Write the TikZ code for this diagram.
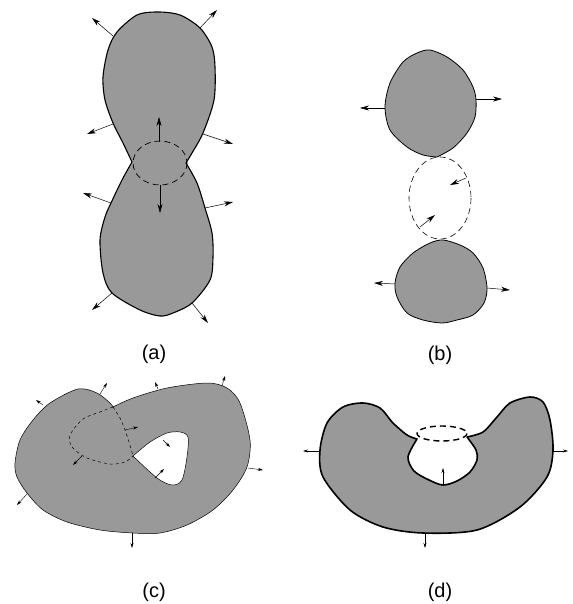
\documentclass[tikz,border=0pt]{standalone}
\usepackage{fontspec}
\setmainfont{Liberation Sans}
\usetikzlibrary{arrows.meta}

\tikzset{
  surface/.style={fill=black!40, draw=black},
  hidden/.style={dash pattern=on 6pt off 4pt},
  normal/.style={-{Stealth[length=9pt,width=5pt]}, line width=0.5pt},
  smallnormal/.style={-{Stealth[length=5pt,width=3pt]}, line width=0.4pt},
  caption/.style={font=\fontsize{20}{22}\selectfont, inner sep=0pt}
}

\begin{document}
\begin{tikzpicture}[x=1pt, y=-1pt]

    \useasboundingbox (0,0) rectangle (572,604);

    % (a) pinching lobes
    \draw[surface, line width=1.1pt]
        plot[smooth] coordinates {(132,162) (123,143) (113,123) (105,100) (103,77) (108,50) (117,32) (137,15) (158,12) (180,15) (200,28) (212,47) (215,67) (214,100) (203,133) (192,153) (186,163)}
        -- plot[smooth] coordinates {(186,163) (197,183) (205,208) (212,233) (213,257) (210,280) (192,303) (173,313) (160,316) (140,310) (112,293) (103,273) (100,240) (105,217) (111,203) (122,180) (132,162)}
        -- cycle;
    \draw[hidden, line width=0.7pt] (160,163) ellipse [x radius=27, y radius=22];
    \foreach \sx/\sy/\ex/\ey in {113/36/92/18, 200/28/217/10, 113/124/87/134, 203/134/233/144,
                                 111/203/83/193, 205/208/233/202, 112/293/92/310, 192/303/208/323,
                                 159/142/159/117, 160/185/160/213}
        \draw[normal] (\sx,\sy) -- (\ex,\ey);
    \node[caption] (capa) at (154,354) {(a)};

    % (b) splitting into two
    \draw[surface, line width=0.8pt] plot[smooth] coordinates {(437,157) (423,155) (407,147) (390,130) (385,107) (390,83) (403,62) (417,53) (430,50) (447,57) (463,70) (473,87) (476,100) (475,117) (467,133) (453,148) (437,157)} -- cycle;
    \draw[surface, line width=0.8pt] plot[smooth cycle] coordinates {(443,240) (460,245) (473,253) (483,268) (487,288) (484,303) (473,315) (457,320) (442,323) (423,320) (407,313) (397,297) (395,283) (400,267) (413,253) (430,243)};
    \draw[hidden, line width=0.6pt] (440,198) ellipse [x radius=31, y radius=41];
    \foreach \sx/\sy/\ex/\ey in {385/108/360/108, 476/99/502/99, 395/284/374/283, 487/288/510/290,
                                 466/178/450/185, 420/227/435/215}
        \draw[normal] (\sx,\sy) -- (\ex,\ey);
    \node[caption] (capb) at (440,355) {(b)};

    % (c) self-overlapping sheet with a hole
    \draw[surface, line width=0.5pt]
        plot[smooth] coordinates {(113,407) (110,403) (97,393) (78,389) (50,403) (33,420) (20,440) (15,463) (17,477) (27,493) (43,510) (67,522) (100,530) (133,533) (160,533) (187,525) (213,510) (233,490) (247,467) (250,440) (240,403) (227,388) (207,383) (167,388) (133,398) (113,407)}
        -- cycle;
    \draw[fill=white, line width=0.5pt]
        plot[smooth] coordinates {(133,456) (150,442) (167,433) (180,432) (188,437) (187,457) (182,480) (172,485) (157,478) (133,456)}
        -- cycle;
    \draw[dashed, line width=0.5pt] plot[smooth] coordinates {(113,407) (120,418) (125,430) (129,442) (133,456)};
    \draw[dashed, line width=0.5pt] plot[smooth] coordinates {(113,407) (100,412) (83,419) (70,435) (72,447) (87,458) (110,464) (125,462) (133,456)};
    \foreach \sx/\sy/\ex/\ey in {43/405/36/400, 100/394/107/383, 158/389/155/382, 222/386/225/376,
                                 248/468/263/470, 132/533/132/548, 27/494/17/505,
                                 125/430/138/427, 163/440/170/447, 155/478/164/469, 82/456/73/465}
        \draw[smallnormal] (\sx,\sy) -- (\ex,\ey);
    \node[caption] (capc) at (154,592) {(c)};

    % (d) closing hole
    \draw[surface, line width=1.6pt, line join=round]
        plot[smooth] coordinates {(417,439) (407,435) (393,423) (380,408) (363,403) (343,407) (327,423) (320,450) (323,477) (350,510) (383,527) (423,533) (477,530) (520,507) (547,477) (553,450) (550,420) (543,402) (530,397) (510,403) (497,417) (483,432) (467,437)}
        -- plot[smooth] coordinates {(467,437) (476,450) (477,460) (470,472) (457,481) (443,485) (429,480) (414,471) (408,457) (417,439)}
        -- cycle;
    \draw[hidden, line width=1.4pt] (442,433.5) ellipse [x radius=25, y radius=7.5];
    \foreach \sx/\sy/\ex/\ey in {320/451/303/451, 553/451/568/451, 425/533/425/548, 443/485/443/468}
        \draw[smallnormal, line width=0.6pt] (\sx,\sy) -- (\ex,\ey);
    \node[caption] (capd) at (440,592) {(d)};

\end{tikzpicture}
\end{document}
